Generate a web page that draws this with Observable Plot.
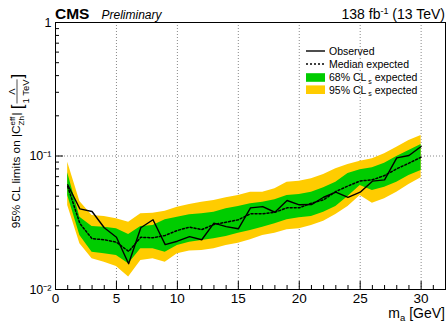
<!DOCTYPE html>
<html><head><meta charset="utf-8">
<script src="https://cdn.jsdelivr.net/npm/d3@7"></script>
<script src="https://cdn.jsdelivr.net/npm/@observablehq/plot@0.6"></script>
<style>
html,body{margin:0;padding:0;background:#fff;}
svg{display:block;}
</style></head><body><div id="chart"></div>
<script>
// ---- data ----
const mass = [1,2,3,4,5,6,7,8,9,10,11,12,13,14,15,16,17,18,19,20,21,22,23,24,25,26,27,28,29,30];
const observed = [0.0609,0.0402,0.0384,0.0290,0.0246,0.0156,0.0290,0.0333,0.0217,0.0230,0.0249,0.0236,0.0314,0.0296,0.0285,0.0409,0.0418,0.0379,0.0464,0.0431,0.0433,0.0491,0.0536,0.0489,0.0536,0.0648,0.0663,0.0969,0.1009,0.1178];
const expected = [0.0591,0.0312,0.0240,0.0236,0.0226,0.0193,0.0246,0.0244,0.0254,0.0277,0.0293,0.0281,0.0307,0.0319,0.0333,0.0369,0.0369,0.0379,0.0409,0.0409,0.0443,0.0470,0.0542,0.0596,0.0650,0.0663,0.0714,0.0802,0.0884,0.0980];
const band68Low = [0.0506,0.0254,0.0190,0.0185,0.0180,0.0156,0.0202,0.0202,0.0190,0.0214,0.0226,0.0233,0.0240,0.0249,0.0264,0.0277,0.0293,0.0311,0.0333,0.0344,0.0352,0.0379,0.0418,0.0497,0.0601,0.0551,0.0584,0.0636,0.0714,0.0779];
const band68High = [0.0748,0.0348,0.0296,0.0293,0.0285,0.0258,0.0296,0.0302,0.0333,0.0348,0.0363,0.0369,0.0379,0.0402,0.0418,0.0438,0.0451,0.0470,0.0506,0.0515,0.0536,0.0578,0.0636,0.0739,0.0788,0.0816,0.0884,0.0991,0.1100,0.1220];
const band95Low = [0.0426,0.0220,0.0170,0.0160,0.0149,0.0124,0.0165,0.0170,0.0160,0.0185,0.0194,0.0196,0.0202,0.0214,0.0222,0.0236,0.0254,0.0264,0.0280,0.0285,0.0302,0.0325,0.0365,0.0418,0.0506,0.0443,0.0478,0.0536,0.0612,0.0687];
const band95High = [0.0899,0.0456,0.0358,0.0352,0.0339,0.0319,0.0369,0.0373,0.0386,0.0414,0.0433,0.0451,0.0464,0.0486,0.0506,0.0536,0.0536,0.0568,0.0636,0.0648,0.0675,0.0727,0.0802,0.0864,0.0914,0.0953,0.1039,0.1164,0.1307,0.1424];

const xTicks = [0,5,10,15,20,25,30];
const xMinorTicks = [1,2,3,4,6,7,8,9,11,12,13,14,16,17,18,19,21,22,23,24,26,27,28,29,31];
const xGrid = [5,10,15,20,25,30];
const yTicks = [0.01,0.1,1];
const yTickLabels = ["10\u207B\u00B2","10\u207B\u00B9","1"];
const yMinorTicks = [0.02,0.03,0.04,0.05,0.06,0.07,0.08,0.09,0.2,0.3,0.4,0.5,0.6,0.7,0.8,0.9];
const yGrid = [0.1];

const legendLabels = ["Observed","Median expected","68% CL","95% CL"];
const legendSub = ["","","s","s"];
const legendTail = ["","","expected","expected"];
const legendKinds = ["solid","dotted","green","yellow"];

// ---- build ----
const font = "'Liberation Sans', Arial, Helvetica, sans-serif";
const green = "#00cc00", yellow = "#ffcc00";
const rows = mass.map((m,i)=>({m, obs:observed[i], exp:expected[i], lo68:band68Low[i], hi68:band68High[i], lo95:band95Low[i], hi95:band95High[i]}));
const W = 448, H = 323, mL = 55, mR = 3, mT = 22, mB = 34;
const fw_ = W - mL - mR, fh_ = H - mT - mB;

const plot = Plot.plot({
  width: W, height: H,
  marginLeft: mL, marginRight: mR, marginTop: mT, marginBottom: mB,
  style: {fontFamily: font, fontSize: "13px", color: "#000", background: "#fff", overflow: "visible"},
  x: {domain: [0, 32]},
  y: {type: "log", domain: [0.01, 1]},
  marks: [
    Plot.gridX(xGrid, {stroke: "#888", strokeOpacity: 1, strokeDasharray: "1,2"}),
    Plot.gridY(yGrid, {stroke: "#888", strokeOpacity: 1, strokeDasharray: "1,2"}),
    Plot.areaY(rows, {x: "m", y1: "lo95", y2: "hi95", fill: yellow}),
    Plot.areaY(rows, {x: "m", y1: "lo68", y2: "hi68", fill: green}),
    Plot.line(rows, {x: "m", y: "exp", stroke: "#000", strokeWidth: 1.5, strokeDasharray: "2,2"}),
    Plot.line(rows, {x: "m", y: "obs", stroke: "#000", strokeWidth: 1.4}),
    // inward ticks
    Plot.ruleX(xMinorTicks, {x: d => d, insetTop: fh_ - 4, stroke: "#000"}),
    Plot.ruleX(xTicks, {x: d => d, insetTop: fh_ - 8, stroke: "#000"}),
    Plot.ruleY(yMinorTicks, {y: d => d, insetRight: fw_ - 4, stroke: "#000"}),
    Plot.ruleY(yTicks, {y: d => d, insetRight: fw_ - 8, stroke: "#000"}),
    Plot.axisX(xTicks, {anchor: "bottom", tickSize: 0, tickPadding: 4, fontSize: 13.5, label: null}),
    Plot.axisY(yTicks, {anchor: "left", tickSize: 0, tickPadding: 4, fontSize: 12.5, label: null,
      tickFormat: d => yTickLabels[yTicks.indexOf(d)]}),
    Plot.frame({stroke: "#000"})
  ]
});
document.getElementById("chart").appendChild(plot);

const svg = d3.select(plot);

// header
const hdr = svg.append("g").attr("font-family", font).attr("fill", "#000").attr("text-anchor", "start");
hdr.append("text").attr("x", 55).attr("y", 19).attr("font-size", 15.5).attr("font-weight", "bold").text("CMS");
hdr.append("text").attr("x", 101.5).attr("y", 19).attr("font-size", 12).attr("font-style", "italic").text("Preliminary");
const lumi = hdr.append("text").attr("x", 445).attr("y", 19).attr("font-size", 14).attr("text-anchor", "end");
lumi.append("tspan").text("138 fb");
lumi.append("tspan").attr("font-size", 9).attr("dy", -5.5).text("-1");
lumi.append("tspan").attr("dy", 5.5).text(" (13 TeV)");

// x title
const xt = svg.append("text").attr("font-family", font).attr("font-size", 14).attr("x", 445).attr("y", 318).attr("text-anchor", "end").attr("fill", "#000");
xt.append("tspan").text("m");
xt.append("tspan").attr("font-size", 9.5).attr("dy", 3).text("a");
xt.append("tspan").attr("dy", -3).text(" [GeV]");

// y title (rotated)
const yg = svg.append("g").attr("font-family", font).attr("fill", "#000").attr("text-anchor", "start");
let u = 0;
function put(str, size, v) {
  const t = yg.append("text").attr("x", u).attr("y", v).attr("font-size", size).text(str);
  return t.node().getComputedTextLength();
}
u += put("95% CL limits on |C", 11.8, 0);
const w1 = put("eff", 8, -5), w2 = put("Zh", 8, 4);
u += Math.max(w1, w2) + 0.5;
u += put("| ", 11.8, 0);
u += put("[", 17, 2.5) + 1;
// fraction
const den = yg.append("text").attr("x", u).attr("y", 8.5).attr("font-size", 9.5).text("1 TeV");
const fw = den.node().getComputedTextLength();
yg.append("text").attr("x", u + fw/2).attr("y", -5).attr("font-size", 9.5).attr("text-anchor", "middle").text("\u039B");
yg.append("line").attr("x1", u).attr("x2", u + fw).attr("y1", -3).attr("y2", -3).attr("stroke", "#000").attr("stroke-width", 0.7);
u += fw + 1;
u += put("]", 17, 2.5);
yg.attr("transform", `translate(20,${151 + u/2}) rotate(-90)`);

// legend
const lg = svg.append("g").attr("font-family", font).attr("font-size", 10.5).attr("fill", "#000").attr("text-anchor", "start");
const rowY = [51, 64, 77.5, 89.7];
legendLabels.forEach((lab, i) => {
  const cy = rowY[i];
  const k = legendKinds[i];
  if (k === "solid") lg.append("line").attr("x1", 306).attr("x2", 325).attr("y1", cy).attr("y2", cy).attr("stroke", "#000").attr("stroke-width", 1.4);
  else if (k === "dotted") lg.append("line").attr("x1", 306).attr("x2", 325).attr("y1", cy).attr("y2", cy).attr("stroke", "#000").attr("stroke-width", 1.4).attr("stroke-dasharray", "2,2");
  else lg.append("rect").attr("x", 306).attr("y", cy - 4.3).attr("width", 19).attr("height", 8.6).attr("fill", k === "green" ? green : yellow);
  const t = lg.append("text").attr("x", 329).attr("y", cy + 3.8);
  t.append("tspan").text(lab);
  if (legendSub[i]) {
    t.append("tspan").attr("font-size", 7).attr("dx", 2).attr("dy", 2.5).text(legendSub[i]);
    t.append("tspan").attr("dy", -2.5).text(" " + legendTail[i]);
  }
});
</script></body></html>
